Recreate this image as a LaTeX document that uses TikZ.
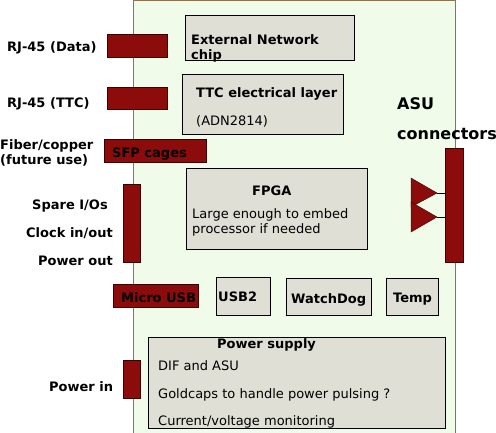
\documentclass[tikz,border=0pt]{standalone}
\usepackage{fontspec}
\setmainfont{DejaVu Sans}
\usetikzlibrary{positioning}

\definecolor{boardfill}{HTML}{F0FCE9}
\definecolor{boardline}{HTML}{8B7553}
\definecolor{connred}{HTML}{8C0B0B}
\definecolor{connline}{HTML}{3C0000}
\definecolor{chipgrey}{HTML}{E0DFD6}

\begin{document}
\begin{tikzpicture}[x=1pt, y=-1pt,
    every node/.style={inner sep=0pt, font=\fontsize{13}{15.5}\selectfont},
    board/.style={draw=boardline, fill=boardfill, line width=1pt},
    redbox/.style={rectangle, draw=connline, fill=connred, anchor=north west},
    chipbox/.style={rectangle, draw=black, fill=chipgrey, anchor=north west},
    lbl/.style={anchor=base west, font=\fontsize{13}{15.5}\selectfont\bfseries},
    biglbl/.style={anchor=base west, font=\fontsize{16}{19}\selectfont\bfseries},
    txt/.style={anchor=base west}]

    \useasboundingbox (0,0) rectangle (496,432);

    % Board
    \node (board) [board, rectangle, anchor=north west, minimum width=322, minimum height=440] at (133,0) {};

    % Connectors
    \node (rjdata) [redbox, minimum width=60, minimum height=23] at (107,34) {};
    \node (rjttc) [redbox, minimum width=60, minimum height=22] at (107,87) {};
    \node (sfp) [redbox, minimum width=102, minimum height=23] at (104,139) {};
    \node (spare) [redbox, minimum width=17, minimum height=78] at (123,184) {};
    \node (microusb) [redbox, minimum width=85, minimum height=23] at (113,284) {};
    \node (pwrin) [redbox, minimum width=17, minimum height=38] at (123,360) {};
    \node (asu) [redbox, minimum width=18, minimum height=114] at (445,148) {};

    % Chips
    \node (extnet) [chipbox, minimum width=169, minimum height=45] at (185,15) {};
    \node (ttc) [chipbox, minimum width=161, minimum height=60] at (182,74) {};
    \node (fpga) [chipbox, minimum width=181, minimum height=81] at (186,168) {};
    \node (usb) [chipbox, minimum width=54, minimum height=38] at (216,277) {};
    \node (watchdog) [chipbox, minimum width=85, minimum height=37] at (286,278) {};
    \node (temp) [chipbox, minimum width=52, minimum height=37] at (386,278) {};
    \node (power) [chipbox, minimum width=297, minimum height=91] at (148,337) {};

    % Texts on the chips
    \node (extnettxt) [lbl] at (191,44) {External Network};
    \node (chiptxt) [lbl] at (191,59) {chip};
    \node (ttctxt) [lbl] at (196,97) {TTC electrical layer};
    \node (adntxt) [txt] at (196,125) {(ADN2814)};
    \node (fpgatxt) [lbl] at (252,195) {FPGA};
    \node (embedtxt) [txt] at (192,218) {Large enough to embed};
    \node (proctxt) [txt] at (192,233) {processor if needed};
    \node (usbtxt) [lbl] at (218,301) {USB2};
    \node (wdtxt) [lbl] at (291,303) {WatchDog};
    \node (temptxt) [lbl] at (393,302) {Temp};
    \node (powertxt) [lbl] at (217,348) {Power supply};
    \node (diftxt) [txt] at (158,370) {DIF and ASU};
    \node (goldtxt) [txt] at (158,398) {Goldcaps to handle power pulsing ?};
    \node (curtxt) [txt] at (158,425) {Current/voltage monitoring};
    \node (sfptxt) [lbl, text=black] at (112,157) {SFP cages};
    \node (musbtxt) [lbl, text=black] at (121,302) {Micro USB};

    % Labels outside
    \node (rjdatalbl) [lbl] at (7,51) {RJ-45 (Data)};
    \node (rjttclbl) [lbl] at (7,107) {RJ-45 (TTC)};
    \node (fiberlbl) [lbl] at (0,149) {Fiber/copper};
    \node (futurelbl) [lbl] at (0,164) {(future use)};
    \node (sparelbl) [lbl] at (32,209) {Spare I/Os};
    \node (clocklbl) [lbl] at (26,237) {Clock in/out};
    \node (pwroutlbl) [lbl] at (38,265) {Power out};
    \node (pwrinlbl) [lbl] at (49,391) {Power in};
    \node (asulbl) [biglbl] at (397,109) {ASU};
    \node (connlbl) [biglbl] at (397,139) {connectors};

    % ASU plugs
    \coordinate (tipa) at (437,193);
    \coordinate (tipb) at (437,217);
    \draw[draw=connline, fill=connred] (411,178) -- (tipa) -- (411,207) -- cycle;
    \draw[draw=connline, fill=connred] (411,202) -- (tipb) -- (411,232) -- cycle;
    \draw (tipa) -- (tipa -| asu.west);
    \draw (tipb) -- (tipb -| asu.west);

\end{tikzpicture}
\end{document}
